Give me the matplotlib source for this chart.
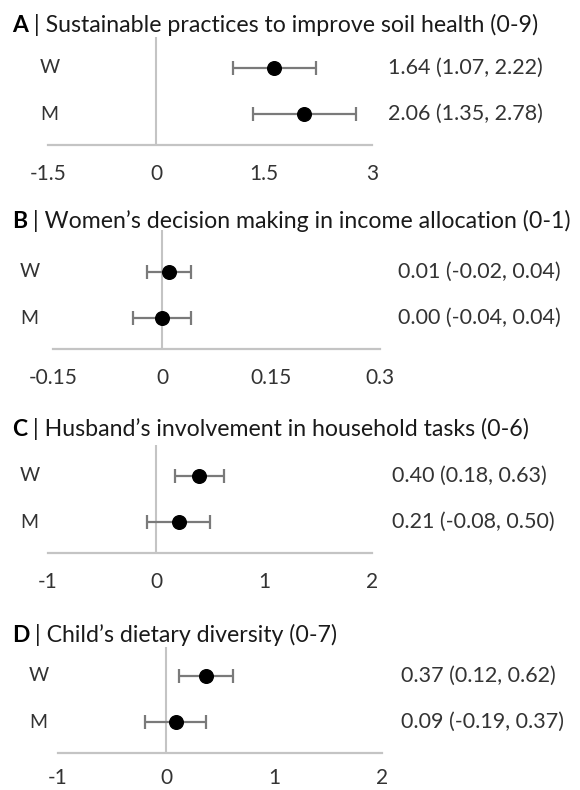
import matplotlib
matplotlib.use("Agg")
import matplotlib.pyplot as plt

plt.rcParams['font.family'] = ['Lato', 'DejaVu Sans']

letters = ["A", "B", "C", "D"]
titles = ["Sustainable practices to improve soil health (0-9)",
          "Women\u2019s decision making in income allocation (0-1)",
          "Husband\u2019s involvement in household tasks (0-6)",
          "Child\u2019s dietary diversity (0-7)"]
groups = ["W", "M"]

est_w = [1.64, 0.01, 0.40, 0.37]
lo_w = [1.07, -0.02, 0.18, 0.12]
hi_w = [2.22, 0.04, 0.63, 0.62]
est_m = [2.06, 0.00, 0.21, 0.09]
lo_m = [1.35, -0.04, -0.08, -0.19]
hi_m = [2.78, 0.04, 0.50, 0.37]

xticks = [[-1.5, 0, 1.5, 3],
          [-0.15, 0, 0.15, 0.3],
          [-1, 0, 1, 2],
          [-1, 0, 1, 2]]
xticklabels = [["-1.5", "0", "1.5", "3"],
               ["-0.15", "0", "0.15", "0.3"],
               ["-1", "0", "1", "2"],
               ["-1", "0", "1", "2"]]

W, H = 580, 790
fig = plt.figure(figsize=(W / 100, H / 100), dpi=100)

# axes boxes in pixels: left, right, top, bottom
boxes = [(48, 372, 37, 145), (53, 380, 230, 349),
         (48, 372, 445, 553), (58, 382, 647, 753)]
title_y = [25, 222, 430, 635]
label_x = [40, 20, 20, 29]
annot_gap = [16, 18, 20, 19]
tick_pad = [14, 14, 14, 11]

grid_c = "#c4c4c4"
bar_c = "#7a7a7a"
txt_c = "#333333"

for i in range(4):
    l, r, t, b = boxes[i]
    ax = fig.add_axes([l / W, (H - b) / H, (r - l) / W, (b - t) / H])
    ests = [est_w[i], est_m[i]]
    los = [lo_w[i], lo_m[i]]
    his = [hi_w[i], hi_m[i]]
    ys = [1, 0]
    for e, lo, hi, y in zip(ests, los, his, ys):
        ax.errorbar([e], [y], xerr=[[e - lo], [hi - e]], fmt='o', color='black',
                    ecolor=bar_c, elinewidth=1.6, capsize=4.7, capthick=1.6,
                    markersize=9.8, zorder=3)
        ax.annotate("{:.2f} ({:.2f}, {:.2f})".format(e, lo, hi), xy=(1, y),
                    xycoords=('axes fraction', 'data'),
                    xytext=(annot_gap[i] * 0.72, 0),
                    textcoords='offset points', ha='left', va='center',
                    fontsize=15.5, color=txt_c, annotation_clip=False)
    for g, y in zip(groups, ys):
        ax.annotate(g, xy=(label_x[i] / W, y), xycoords=('figure fraction', 'data'),
                    ha='left', va='center', fontsize=14, color=txt_c,
                    annotation_clip=False)
    ax.axvline(0, color=grid_c, lw=1.5, zorder=1)
    ax.set_xlim(xticks[i][0], xticks[i][-1])
    ax.set_ylim(-0.66, (b - t) / 46.5 - 0.66)
    ax.set_xticks(xticks[i])
    ax.set_xticklabels(xticklabels[i])
    ax.tick_params(axis='x', length=0, pad=tick_pad[i], labelsize=15,
                   labelcolor=txt_c)
    ax.set_yticks([])
    for s in ['top', 'left', 'right']:
        ax.spines[s].set_visible(False)
    ax.spines['bottom'].set_color(grid_c)
    ax.spines['bottom'].set_linewidth(1.6)
    ax.patch.set_alpha(0)

    tl = fig.text(12 / W, (H - title_y[i]) / H, letters[i], fontsize=16.5,
                  fontweight='bold', color='black', ha='left', va='center')
    ax.annotate(" | " + titles[i], xy=(1, 0), xycoords=tl, ha='left',
                va='bottom', fontsize=16.7, color='#1a1a1a',
                annotation_clip=False)

fig.savefig("out.png", dpi=100)
